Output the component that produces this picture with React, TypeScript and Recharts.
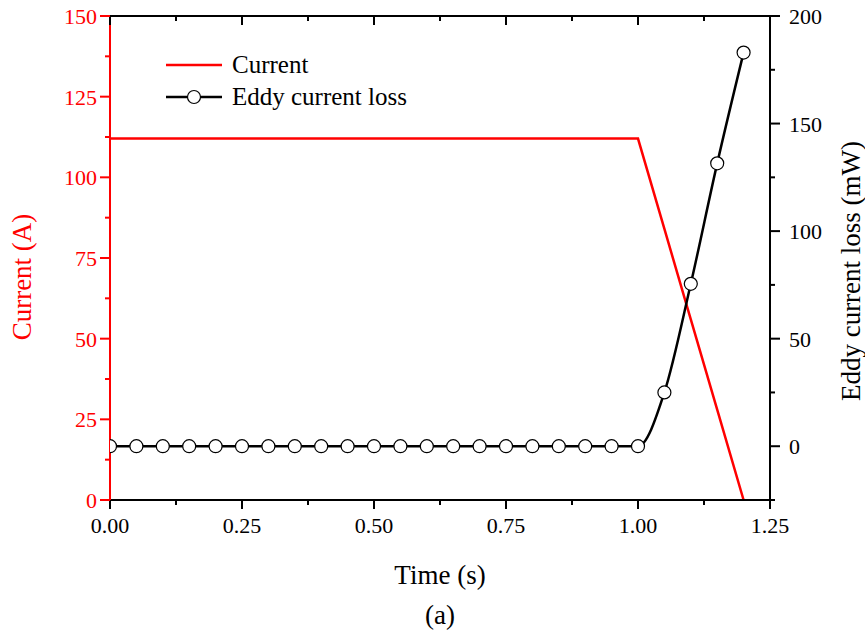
import { ComposedChart, Line, XAxis, YAxis } from 'recharts'

const times = [
  0, 0.05, 0.1, 0.15, 0.2, 0.25, 0.3, 0.35, 0.4, 0.45, 0.5, 0.55, 0.6,
  0.65, 0.7, 0.75, 0.8, 0.85, 0.9, 0.95, 1.0, 1.05, 1.1, 1.15, 1.2,
]
const current = [
  112, 112, 112, 112, 112, 112, 112, 112, 112, 112, 112, 112, 112,
  112, 112, 112, 112, 112, 112, 112, 112, 84, 56, 28, 0,
]
const eddyLoss = [
  0, 0, 0, 0, 0, 0, 0, 0, 0, 0, 0, 0, 0,
  0, 0, 0, 0, 0, 0, 0, 0, 25, 75.5, 131.5, 183,
]

const xTicks = [0, 0.125, 0.25, 0.375, 0.5, 0.625, 0.75, 0.875, 1.0, 1.125, 1.25]
const leftTicks = [0, 12.5, 25, 37.5, 50, 62.5, 75, 87.5, 100, 112.5, 125, 137.5, 150]
const rightTicks = [-25, 0, 25, 50, 75, 100, 125, 150, 175, 200]

const data = times.map((t, i) => ({ t, current: current[i], eddy: eddyLoss[i] }))

const FONT = '"Liberation Serif", "Times New Roman", serif'
const RED = '#ff0000'
const tickFont = { fontFamily: FONT, fontSize: 22 }

const isMultiple = (v: number, step: number) =>
  Math.abs(v / step - Math.round(v / step)) < 1e-6

function BottomTick({ x, y, payload }: any) {
  const major = isMultiple(payload.value, 0.25)
  return (
    <g>
      <line x1={x} y1={y} x2={x} y2={y + (major ? 9 : 5)} stroke="#000" strokeWidth={2} />
      {major && (
        <text x={x} y={y + 33} textAnchor="middle" style={tickFont} fill="#000">
          {payload.value.toFixed(2)}
        </text>
      )}
    </g>
  )
}

function TopTick({ x, y, payload }: any) {
  const major = isMultiple(payload.value, 0.25)
  return <line x1={x} y1={y} x2={x} y2={y + (major ? 9 : 5)} stroke="#000" strokeWidth={2} />
}

function LeftTick({ x, y, payload }: any) {
  const major = isMultiple(payload.value, 25)
  return (
    <g>
      <line x1={x} y1={y} x2={x - (major ? 10 : 5)} y2={y} stroke={RED} strokeWidth={2} />
      {major && (
        <text x={x - 13} y={y + 8} textAnchor="end" style={tickFont} fill={RED}>
          {payload.value}
        </text>
      )}
    </g>
  )
}

function RightTick({ x, y, payload }: any) {
  const major = isMultiple(payload.value, 50)
  return (
    <g>
      <line x1={x} y1={y} x2={x + (major ? 10 : 5)} y2={y} stroke="#000" strokeWidth={2} />
      {major && (
        <text x={x + 19} y={y + 8} textAnchor="start" style={tickFont} fill="#000">
          {payload.value}
        </text>
      )}
    </g>
  )
}

function LegendBox() {
  const row = { display: 'flex', alignItems: 'center', height: 32 }
  const label = { fontFamily: FONT, fontSize: 25, color: '#000', marginLeft: 10 }
  return (
    <div style={{ position: 'absolute', left: 166, top: 49 }}>
      <div style={row}>
        <svg width={56} height={14}>
          <line x1={0} y1={7} x2={56} y2={7} stroke={RED} strokeWidth={2.5} />
        </svg>
        <span style={label}>Current</span>
      </div>
      <div style={row}>
        <svg width={56} height={16}>
          <line x1={0} y1={8} x2={56} y2={8} stroke="#000" strokeWidth={2.5} />
          <circle cx={28} cy={8} r={6.5} fill="#fff" stroke="#000" strokeWidth={1.2} />
        </svg>
        <span style={label}>Eddy current loss</span>
      </div>
    </div>
  )
}

const titleStyle = {
  position: 'absolute' as const,
  fontFamily: FONT,
  fontSize: 27,
  whiteSpace: 'nowrap' as const,
  transform: 'translate(-50%, -50%)',
}

export default function App() {
  return (
    <div style={{ position: 'absolute', left: 0, top: 0, width: 865, height: 633, background: '#fff' }}>
      <ComposedChart
        width={865}
        height={633}
        data={data}
        margin={{ top: 15, right: 94, bottom: 132, left: 109 }}
      >
        <XAxis
          dataKey="t"
          type="number"
          domain={[0, 1.25]}
          ticks={xTicks}
          interval={0}
          height={1}
          tickSize={0}
          tickMargin={0}
          tickLine={false}
          axisLine={{ stroke: '#000', strokeWidth: 2 }}
          tick={<BottomTick />}
          allowDataOverflow
        />
        <XAxis
          xAxisId="top"
          orientation="top"
          dataKey="t"
          type="number"
          domain={[0, 1.25]}
          ticks={xTicks}
          interval={0}
          height={1}
          tickSize={0}
          tickMargin={0}
          tickLine={false}
          axisLine={{ stroke: '#000', strokeWidth: 2 }}
          tick={<TopTick />}
          allowDataOverflow
        />
        <YAxis
          yAxisId="right"
          orientation="right"
          type="number"
          domain={[-25, 200]}
          ticks={rightTicks}
          interval={0}
          width={1}
          tickSize={0}
          tickMargin={0}
          tickLine={false}
          axisLine={{ stroke: '#000', strokeWidth: 2 }}
          tick={<RightTick />}
          allowDataOverflow
        />
        <YAxis
          yAxisId="left"
          type="number"
          domain={[0, 150]}
          ticks={leftTicks}
          interval={0}
          width={1}
          tickSize={0}
          tickMargin={0}
          tickLine={false}
          axisLine={{ stroke: RED, strokeWidth: 2 }}
          tick={<LeftTick />}
          allowDataOverflow
        />
        <Line
          yAxisId="left"
          dataKey="current"
          type="linear"
          stroke={RED}
          strokeWidth={2.5}
          dot={false}
          isAnimationActive={false}
        />
        <Line
          yAxisId="right"
          dataKey="eddy"
          type="monotone"
          stroke="#000"
          strokeWidth={2.5}
          dot={{ r: 6.5, fill: '#fff', stroke: '#000', strokeWidth: 1.2 }}
          isAnimationActive={false}
        />
      </ComposedChart>
      <LegendBox />
      <div style={{ ...titleStyle, left: 22, top: 277, color: RED, transform: 'translate(-50%, -50%) rotate(-90deg)' }}>
        Current (A)
      </div>
      <div style={{ ...titleStyle, left: 851, top: 271, color: '#000', transform: 'translate(-50%, -50%) rotate(-90deg)' }}>
        Eddy current loss (mW)
      </div>
      <div style={{ ...titleStyle, left: 440, top: 575, color: '#000' }}>Time (s)</div>
      <div style={{ ...titleStyle, left: 440, top: 615, color: '#000' }}>(a)</div>
    </div>
  )
}
